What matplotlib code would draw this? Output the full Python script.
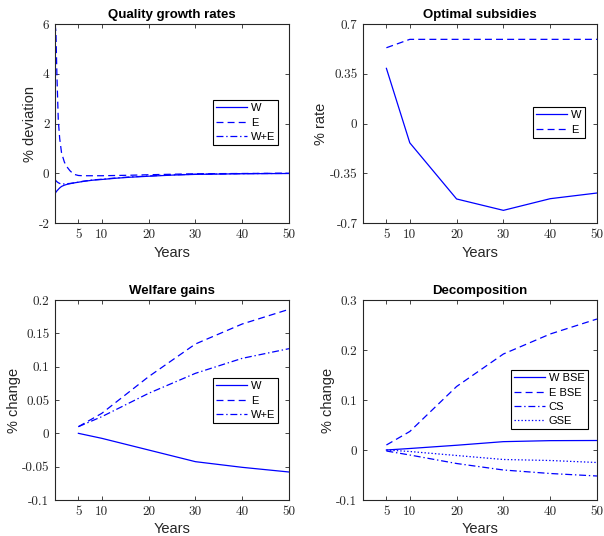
import numpy as np
import matplotlib
matplotlib.use("Agg")
import matplotlib.pyplot as plt
from matplotlib.ticker import FuncFormatter

plt.rcParams['font.family'] = ['Liberation Sans', 'DejaVu Sans']
plt.rcParams['lines.scale_dashes'] = False
plt.rcParams['axes.unicode_minus'] = False

# years for the quarterly growth-rate panel
t_q = [0.0, 0.2, 0.4, 0.7, 1.0, 1.4, 2.0, 2.5, 3.2, 4, 5, 6, 8, 10, 13, 16, 20, 25, 30, 40, 50]
q_W = [-0.82, -0.76, -0.71, -0.65, -0.59, -0.53, -0.48, -0.45, -0.42, -0.39, -0.36, -0.33, -0.28, -0.25,
       -0.2, -0.16, -0.12, -0.075, -0.045, -0.02, -0.01]
q_E = [6.0, 5.7, 4.0, 2.15, 1.4, 0.82, 0.45, 0.27, 0.1, -0.04, -0.09, -0.1, -0.1, -0.1,
       -0.09, -0.08, -0.06, -0.04, -0.02, -0.01, 0.0]
q_WE = [-0.25, -0.3, -0.34, -0.38, -0.41, -0.43, -0.43, -0.42, -0.41, -0.39, -0.36, -0.32, -0.27, -0.24,
        -0.19, -0.15, -0.11, -0.065, -0.04, -0.015, -0.005]

# horizons for the other panels
years = [5, 10, 20, 30, 40, 50]
sub_W = [0.388, -0.136, -0.531, -0.611, -0.529, -0.489]
sub_E = [0.533, 0.592, 0.592, 0.592, 0.592, 0.592]

wel_W = [0.0, -0.0075, -0.025, -0.0425, -0.051, -0.058]
wel_E = [0.01, 0.03, 0.085, 0.134, 0.164, 0.186]
wel_WE = [0.01, 0.025, 0.06, 0.09, 0.1125, 0.127]

dec_WBSE = [0.0, 0.003, 0.0095, 0.0167, 0.0187, 0.019]
dec_EBSE = [0.01, 0.037, 0.127, 0.192, 0.232, 0.262]
dec_CS = [-0.002, -0.01, -0.027, -0.04, -0.047, -0.052]
dec_GSE = [0.0, -0.003, -0.011, -0.019, -0.021, -0.025]

xticks = [5, 10, 20, 30, 40, 50]

solid = '-'
dashed = (0, (5, 3))
dashdot = (0, (5, 2, 1, 2))
dotted = (0, (1, 1.5))
lw = 0.9
blue = (0, 0, 1)

fig = plt.figure(figsize=(6.04, 5.36), dpi=100)
W, H = 604.0, 536.0


def make_ax(x0, y0, x1, y1):
    ax = fig.add_axes([x0 / W, 1 - y1 / H, (x1 - x0) / W, (y1 - y0) / H])
    for s in ax.spines.values():
        s.set_color('#262626')
        s.set_linewidth(0.8)
    ax.tick_params(direction='in', top=True, right=True, length=3, width=0.6,
                   colors='#262626', labelsize=9.5, labelcolor='#262626', pad=4)
    ax.xaxis.set_major_formatter(FuncFormatter(lambda v, p: '%g' % v))
    ax.yaxis.set_major_formatter(FuncFormatter(lambda v, p: '%g' % v))
    return ax


def finish(ax, title, ylabel, legx, legy, xlpad=4):
    ax.set_title(title, fontsize=9.5, fontweight='bold', pad=4)
    ax.set_xlabel('Years', fontsize=10.5, color='#262626', labelpad=xlpad)
    ax.set_ylabel(ylabel, fontsize=10.5, color='#262626', labelpad=1)
    for lab in ax.get_xticklabels() + ax.get_yticklabels():
        lab.set_fontfamily('cmr10')
    leg = ax.legend(loc='upper left', bbox_to_anchor=(legx / W, 1 - legy / H),
                    bbox_transform=fig.transFigure, borderaxespad=0, fontsize=8,
                    handlelength=2.8, handletextpad=0.3, labelspacing=0.38,
                    borderpad=0.3, fancybox=False, framealpha=1)
    leg.get_frame().set_edgecolor('black')
    leg.get_frame().set_linewidth(0.8)


# Quality growth rates
ax1 = make_ax(55, 24, 289, 223)
ax1.plot(t_q, q_W, color=blue, lw=lw, ls=solid, label='W')
ax1.plot(t_q, q_E, color=blue, lw=lw, ls=dashed, label='E')
ax1.plot(t_q, q_WE, color=blue, lw=lw, ls=dashdot, label='W+E')
ax1.set_xlim(0, 50)
ax1.set_ylim(-2, 6)
ax1.set_xticks(xticks)
ax1.set_yticks([-2, 0, 2, 4, 6])
finish(ax1, 'Quality growth rates', '% deviation', 213, 100)

# Optimal subsidies
ax2 = make_ax(363, 24, 597, 223)
ax2.plot(years, sub_W, color=blue, lw=lw, ls=solid, label='W')
ax2.plot(years, sub_E, color=blue, lw=lw, ls=dashed, label='E')
ax2.set_xlim(0, 50)
ax2.set_ylim(-0.7, 0.7)
ax2.set_xticks(xticks)
ax2.set_yticks([-0.7, -0.35, 0, 0.35, 0.7])
finish(ax2, 'Optimal subsidies', '% rate', 533, 107)

# Welfare gains
ax3 = make_ax(55, 300, 289, 500)
ax3.plot(years, wel_W, color=blue, lw=lw, ls=solid, label='W')
ax3.plot(years, wel_E, color=blue, lw=lw, ls=dashed, label='E')
ax3.plot(years, wel_WE, color=blue, lw=lw, ls=dashdot, label='W+E')
ax3.set_xlim(0, 50)
ax3.set_ylim(-0.1, 0.2)
ax3.set_xticks(xticks)
ax3.set_yticks([-0.1, -0.05, 0, 0.05, 0.1, 0.15, 0.2])
finish(ax3, 'Welfare gains', '% change', 213, 378, xlpad=3)

# Decomposition
ax4 = make_ax(363, 300, 597, 500)
ax4.plot(years, dec_WBSE, color=blue, lw=lw, ls=solid, label='W BSE')
ax4.plot(years, dec_EBSE, color=blue, lw=lw, ls=dashed, label='E BSE')
ax4.plot(years, dec_CS, color=blue, lw=lw, ls=dashdot, label='CS')
ax4.plot(years, dec_GSE, color=blue, lw=lw, ls=dotted, label='GSE')
ax4.set_xlim(0, 50)
ax4.set_ylim(-0.1, 0.3)
ax4.set_xticks(xticks)
ax4.set_yticks([-0.1, 0, 0.1, 0.2, 0.3])
finish(ax4, 'Decomposition', '% change', 511, 370, xlpad=3)

fig.savefig('out.png', dpi=100)
